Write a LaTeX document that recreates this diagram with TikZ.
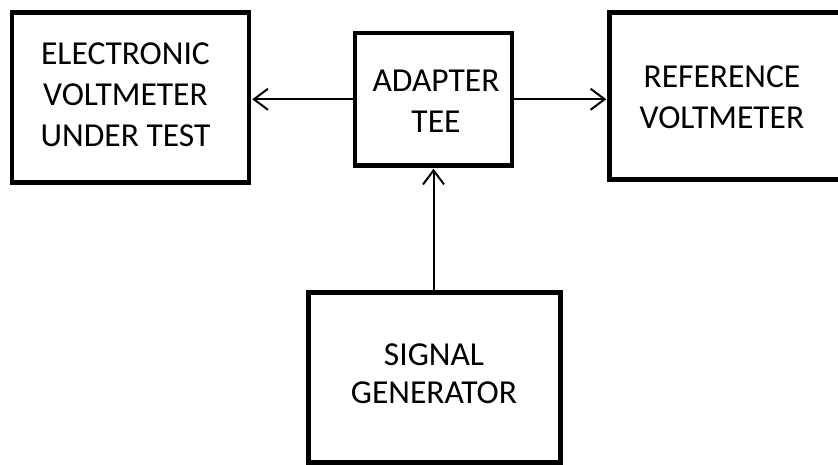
\documentclass[tikz,border=0pt]{standalone}
\usepackage{fontspec}
\setmainfont{Carlito}
\usetikzlibrary{arrows.meta}

\tikzset{
  box/.style={draw=black, line width=4.5pt, rectangle, inner sep=0pt, fill=white},
  lbl/.style={align=center, inner sep=0pt, font=\fontsize{33.5}{41}\selectfont},
  conn/.style={draw=black, line width=2pt,
    -{Straight Barb[length=14pt, width=21pt, line width=2pt]}, shorten >=1pt},
}

\begin{document}
\begin{tikzpicture}[x=1pt, y=-1pt]
  \useasboundingbox[fill=white] (0,0) rectangle (838,464);

  % block outlines
  \node[box, minimum width=237pt, minimum height=170pt] (evm) at (130.5,97.5) {};
  \node[box, minimum width=157pt, minimum height=132.5pt] (tee) at (433.5,99.25) {};
  \node[box, minimum width=260pt, minimum height=167pt] (ref) at (739.5,96) {};
  \node[box, minimum width=252pt, minimum height=170pt] (sig) at (434.5,377.25) {};

  % block captions
  \node[lbl] (evmlbl) at (125.5,94.5) {ELECTRONIC\\VOLTMETER\\UNDER TEST};
  \node[lbl] (teelbl) at (436,101.5) {ADAPTER\\TEE};
  \node[lbl] (reflbl) at (722,97) {REFERENCE\\VOLTMETER};
  \node[lbl, font=\fontsize{33.5}{38}\selectfont] (siglbl) at (434,373.5) {SIGNAL\\GENERATOR};

  % signal paths
  \draw[conn] (tee.west) -- (tee.west -| evm.east);
  \draw[conn] (tee.east) -- (tee.east -| ref.west);
  \draw[conn] (tee.south |- sig.north) -- (tee.south);
\end{tikzpicture}
\end{document}
